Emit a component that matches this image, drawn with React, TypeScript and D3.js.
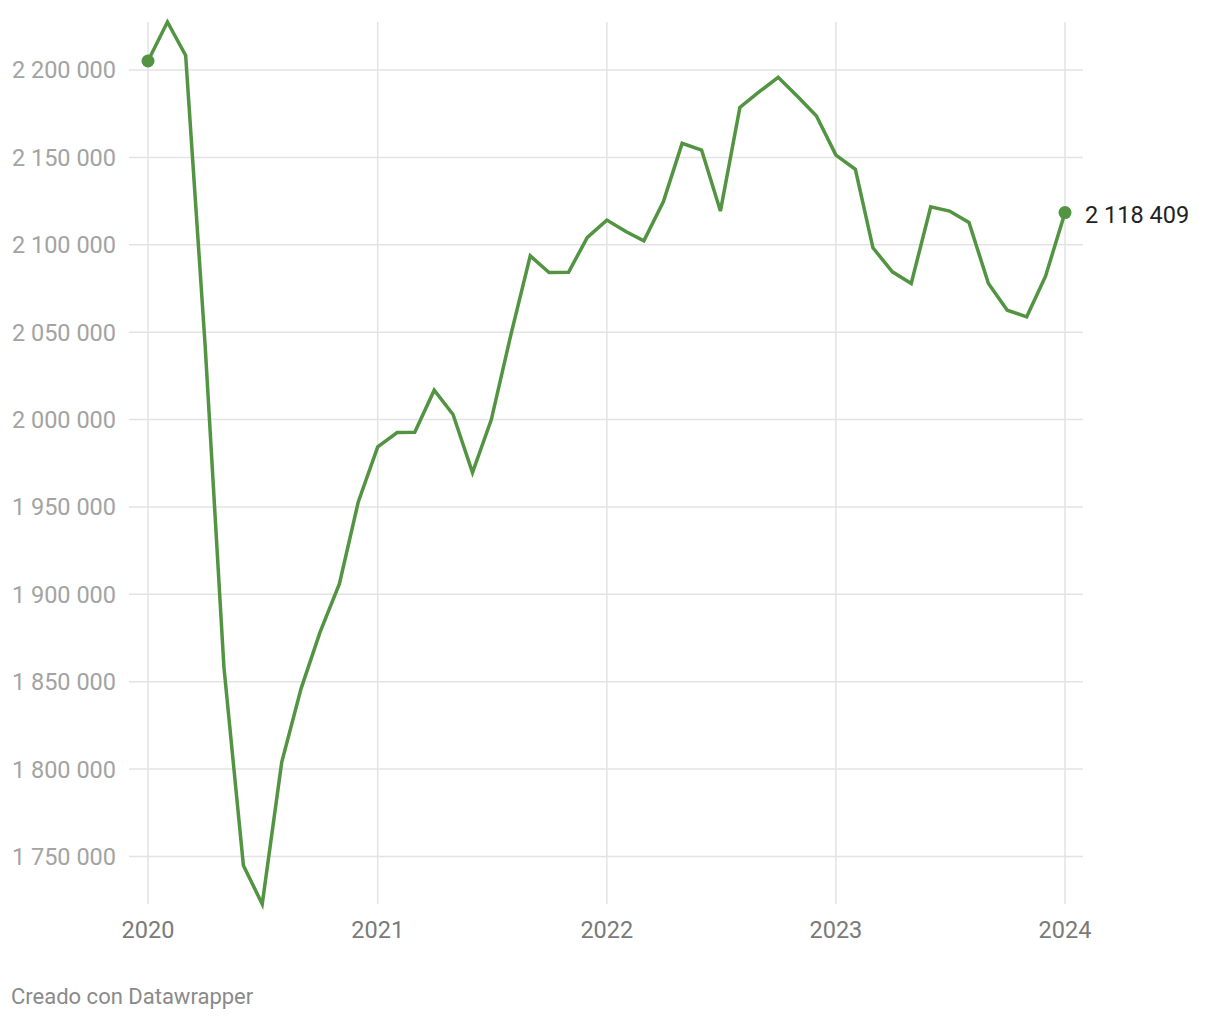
import React from "react";
import * as d3 from "d3";

const months: string[] = [
  "2020-01", "2020-02", "2020-03", "2020-04", "2020-05", "2020-06", "2020-07", "2020-08", "2020-09", "2020-10", "2020-11", "2020-12",
  "2021-01", "2021-02", "2021-03", "2021-04", "2021-05", "2021-06", "2021-07", "2021-08", "2021-09", "2021-10", "2021-11", "2021-12",
  "2022-01", "2022-02", "2022-03", "2022-04", "2022-05", "2022-06", "2022-07", "2022-08", "2022-09", "2022-10", "2022-11", "2022-12",
  "2023-01", "2023-02", "2023-03", "2023-04", "2023-05", "2023-06", "2023-07", "2023-08", "2023-09", "2023-10", "2023-11", "2023-12",
  "2024-01",
];

const values: number[] = [
  2205150, 2227480, 2208300, 2042560, 1858220, 1744860, 1722820, 1803830, 1846200, 1878255, 1906140, 1952850,
  1984340, 1992580, 1992700, 2016800, 2002890, 1969680, 2000020, 2048290, 2093690, 2084180, 2084300, 2104220,
  2114125, 2107430, 2102270, 2124600, 2158040, 2154200, 2119280, 2178650, 2187580, 2195820, 2184830, 2173665,
  2151340, 2143150, 2098270, 2084530, 2077880, 2121740, 2119280, 2112810, 2077880, 2062600, 2058770, 2082065,
  2118409,
];

const yTicks: number[] = [1750000, 1800000, 1850000, 1900000, 1950000, 2000000, 2050000, 2100000, 2150000, 2200000];
const xTicks: string[] = ["2020", "2021", "2022", "2023", "2024"];

const COLOR = "#529442";
const FONT = "Roboto, 'Noto Sans', sans-serif";

export default function App() {
  const W = 1220;
  const H = 1020;
  const parse = d3.timeParse("%Y-%m");
  const parseY = d3.timeParse("%Y");
  const dates = months.map((m) => parse(m) as Date);
  const data = dates.map((d, i) => ({ date: d, value: values[i] }));

  const x = d3
    .scaleTime()
    .domain([dates[0], dates[dates.length - 1]])
    .range([148, 1065]);
  const ext = d3.extent(values) as [number, number];
  const y = d3.scaleLinear().domain(ext).range([904, 22]);

  const fmt = d3.formatLocale({ decimal: ",", thousands: " ", grouping: [3], currency: ["", "€"] }).format(",d");

  const line = d3
    .line<{ date: Date; value: number }>()
    .x((d) => x(d.date))
    .y((d) => y(d.value));

  const first = data[0];
  const last = data[data.length - 1];

  return (
    <svg
      width={W}
      height={H}
      style={{ position: "absolute", left: 0, top: 0, background: "#fff" }}
      fontFamily={FONT}
    >
      {yTicks.map((t) => (
        <g key={"y" + t}>
          <line x1={129} x2={1083} y1={y(t)} y2={y(t)} stroke="#e3e3e3" strokeWidth={1.5} />
          <text x={116} y={y(t)} dy="0.36em" textAnchor="end" fontSize={23.5} fill="#a3a3a3">
            {fmt(t)}
          </text>
        </g>
      ))}
      {xTicks.map((t) => {
        const xx = x(parseY(t) as Date);
        return (
          <g key={"x" + t}>
            <line x1={xx} x2={xx} y1={22} y2={904} stroke="#e3e3e3" strokeWidth={1.5} />
            <text x={xx} y={938} textAnchor="middle" fontSize={23.5} fill="#7a7a7a">
              {t}
            </text>
          </g>
        );
      })}
      <path d={line(data) || ""} fill="none" stroke={COLOR} strokeWidth={3.5} strokeLinejoin="miter" />
      <circle cx={x(first.date)} cy={y(first.value)} r={6.5} fill={COLOR} />
      <circle cx={x(last.date)} cy={y(last.value)} r={6.5} fill={COLOR} />
      <text x={1085} y={y(last.value)} dy="0.45em" fontSize={23.5} fill="#222">
        {fmt(last.value)}
      </text>
      <text x={11} y={1004} fontSize={22} fill="#8a8a8a">
        Creado con Datawrapper
      </text>
    </svg>
  );
}
